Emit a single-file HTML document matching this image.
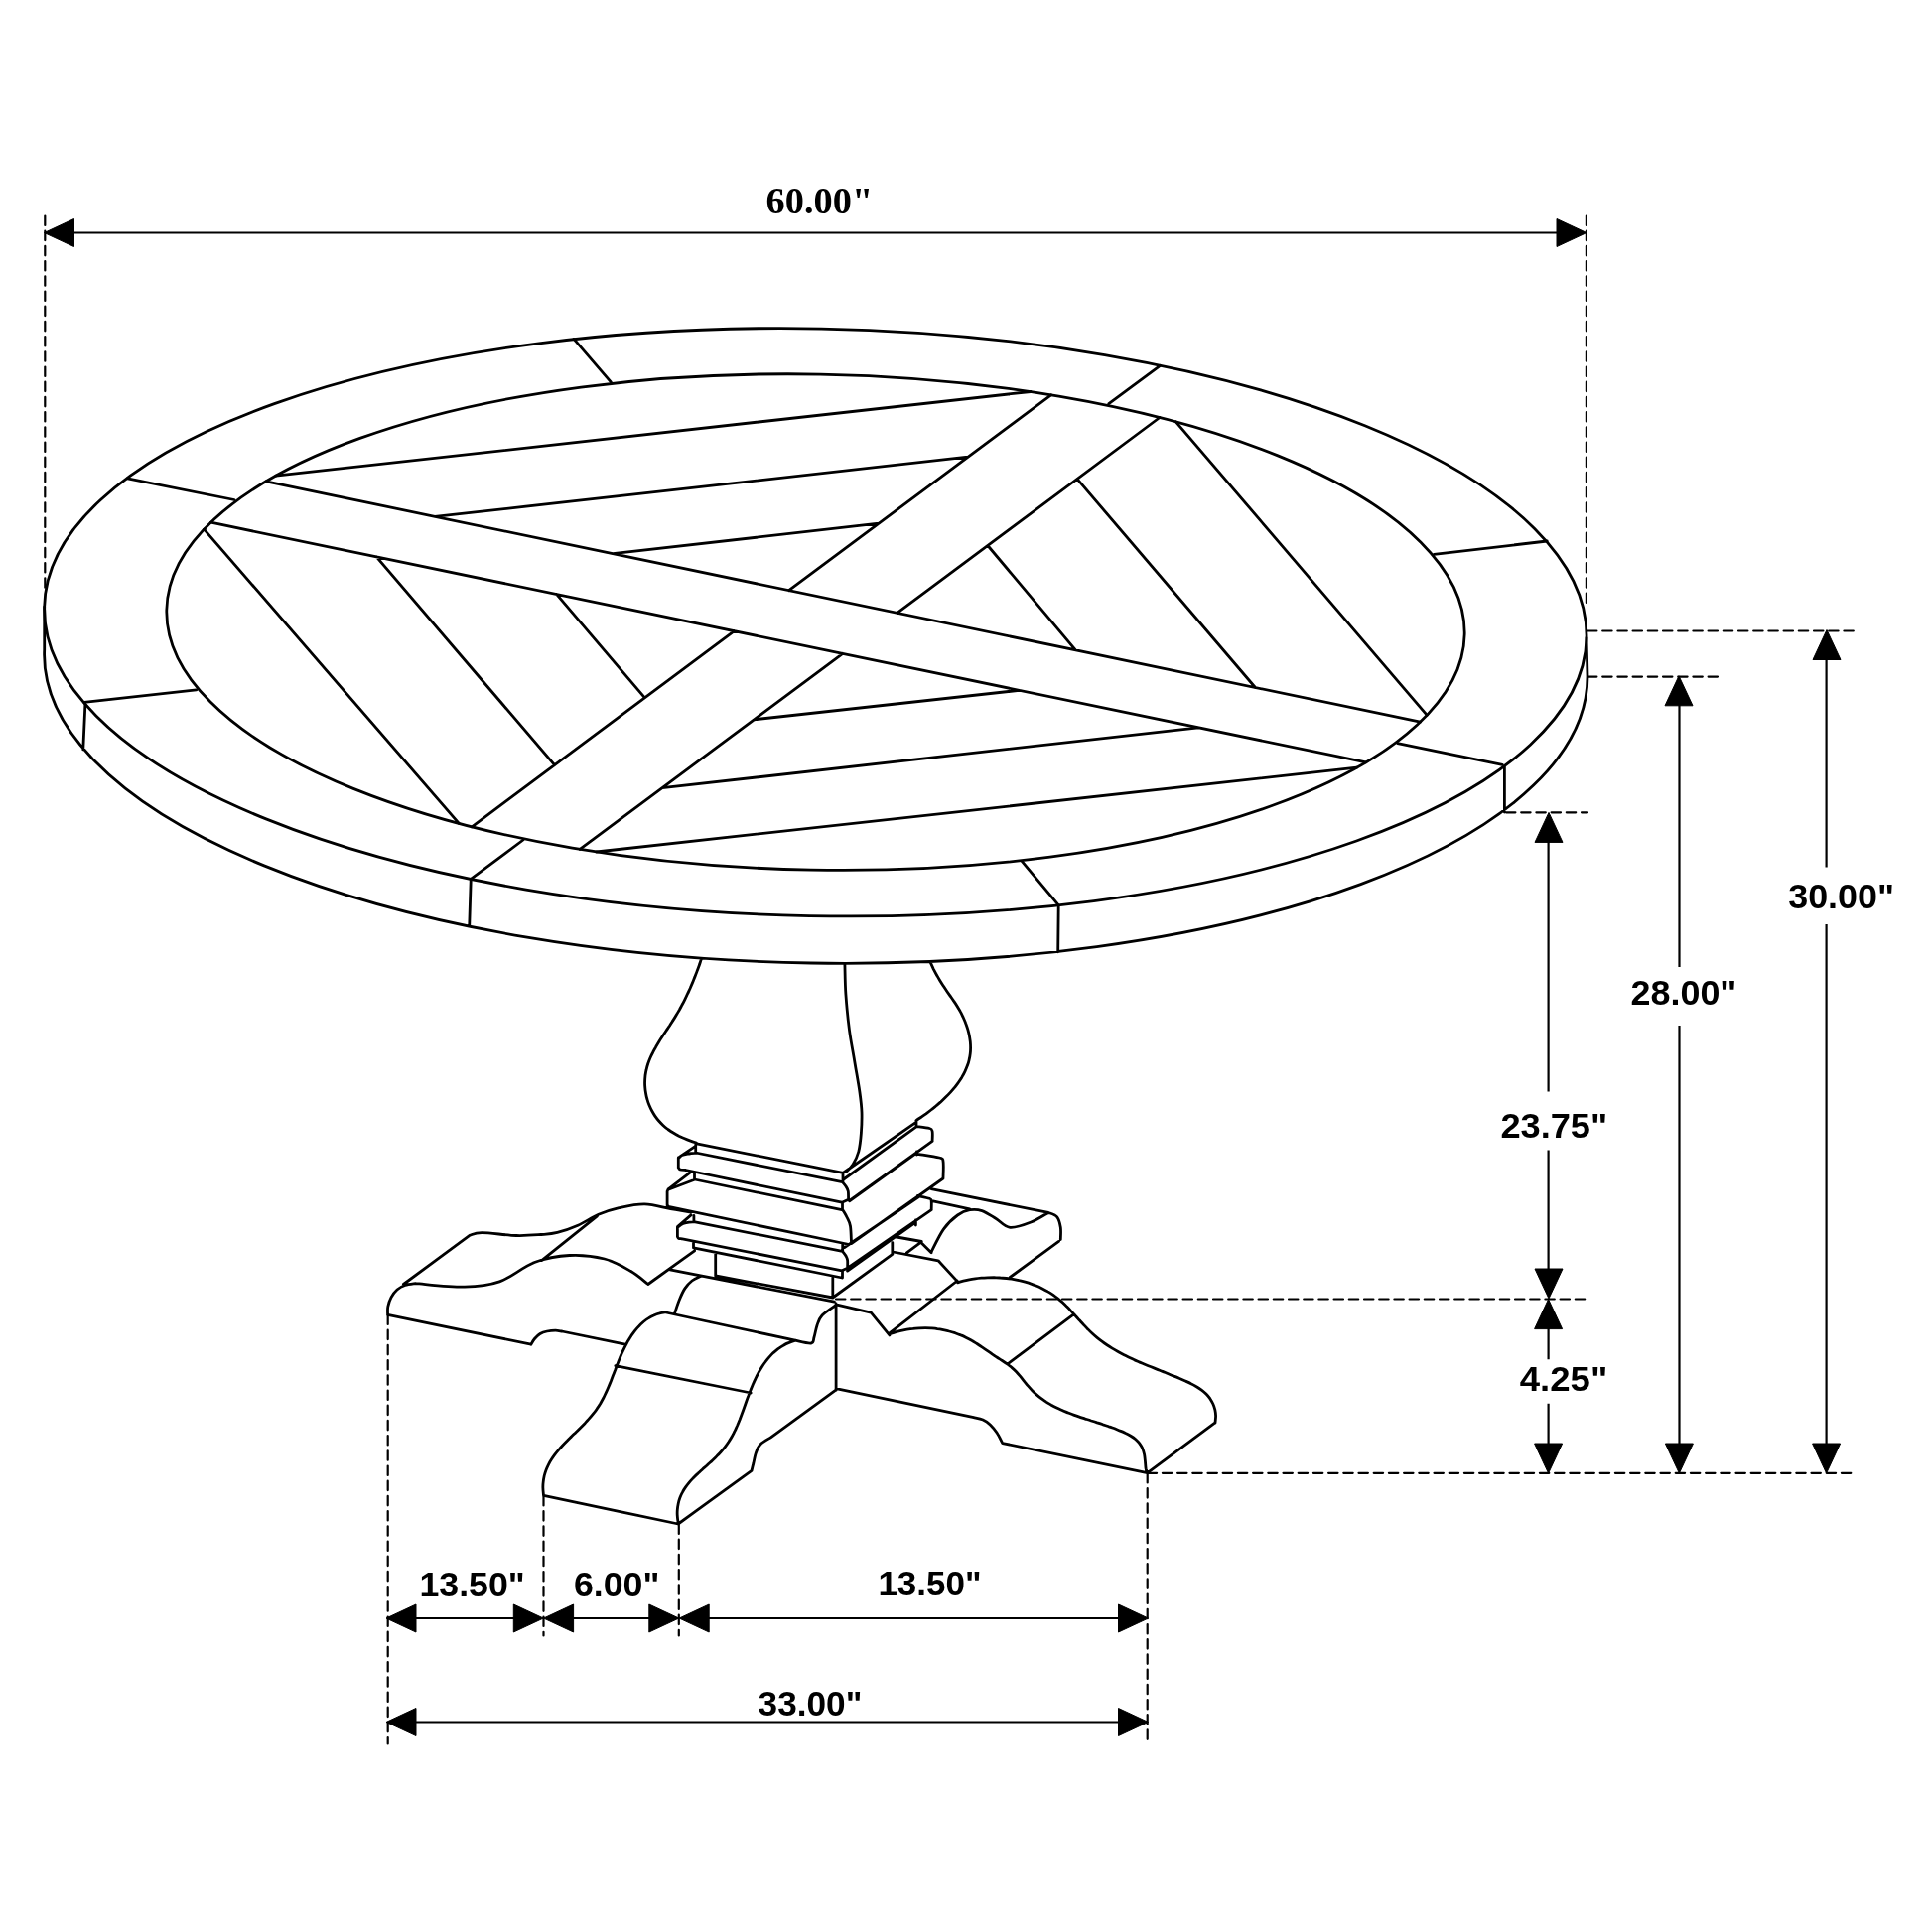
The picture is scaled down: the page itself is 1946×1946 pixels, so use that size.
<!DOCTYPE html>
<html><head><meta charset="utf-8"><title>Table dimensions</title>
<style>html,body{margin:0;padding:0;background:#fff;width:1946px;height:1946px;overflow:hidden}svg{display:block;will-change:transform}</style>
</head><body>
<svg width="1946" height="1946" viewBox="0 0 1946 1946">
<rect width="1946" height="1946" fill="#fff"/>
<g fill="none" stroke="#000" stroke-width="2.8" stroke-linejoin="round" stroke-linecap="round">
<ellipse cx="821.35" cy="626.8" rx="776.85" ry="295.8" transform="rotate(1.15 821.35 626.8)"/>
<ellipse cx="821.5" cy="626.6" rx="653.8" ry="249.6" transform="rotate(1.08 821.5 626.6)"/>
<path d="M44.7,654.4A777.3,299.5 0.97 1 0 1599,680.7M44.7,611.2L44.7,654.4M1598,642.4L1599,680.7M128.4,481.8L236,503.5M578,341.4L615.3,384.9M1168.5,368.3L1116.8,406.6M1558.2,545L1444.3,558.4M1513.3,770.4L1407.7,748.7M1065.7,911.2L1029.4,867.7M474.2,885.3L527,846M84.8,707.3L197.7,694.9M1515.4,772.5L1515.4,818M1066.2,913.3L1065.7,958.8M474.2,886.4L472.7,933M85.9,709.4L83.8,754.9M267.9,484.9L1430.5,727.1M212.4,526.2L1375.9,767.8M1058.7,397.8L794.6,594.7M739.6,635.6L475.2,832.8M1168.1,420.5L903.7,617.4M848.8,658.3L584.1,855.4M277.9,479.2L1038,394.5M438,520.4L974.9,460.2M617.2,557.7L885.1,527.2M1184.4,424.8L1437.3,720.3M1085,482.4L1264.4,692.5M994.9,549.5L1083.4,654.8M205.6,533.1L462.3,829.4M379.2,560.8L558.6,770.6M560.5,598.4L649.5,702.8M759.5,724.8L1026.8,695.3M667,793.7L1207.3,732.8M600.7,858L1366.5,773.2M706.4,966.1C706,967.1 705,970.2 704.3,972.2C703.6,974.2 702.8,976.1 702.1,978.1C701.4,980.1 700.6,982 699.9,983.9C699.1,985.8 698.4,987.7 697.6,989.6C696.8,991.5 696,993.4 695.2,995.3C694.3,997.1 693.5,999 692.6,1000.8C691.8,1002.7 690.9,1004.5 690,1006.3C689.1,1008.2 688.2,1010 687.2,1011.8C686.2,1013.6 685.3,1015.4 684.3,1017.2C683.2,1019 682.2,1020.7 681.1,1022.5C680.1,1024.3 679,1026.1 677.8,1027.9C676.7,1029.6 675.5,1031.4 674.4,1033.2C673.2,1035 672,1036.7 670.8,1038.5C669.6,1040.3 668.4,1042.1 667.3,1043.8C666.1,1045.6 664.9,1047.4 663.8,1049.2C662.7,1051 661.6,1052.8 660.6,1054.7C659.5,1056.5 658.5,1058.3 657.6,1060.2C656.6,1062 655.7,1063.9 654.9,1065.8C654.1,1067.7 653.4,1069.6 652.7,1071.5C652.1,1073.4 651.5,1075.4 651.1,1077.4C650.6,1079.3 650.3,1081.3 650,1083.3C649.8,1085.3 649.6,1087.4 649.6,1089.4C649.5,1091.4 649.6,1093.5 649.8,1095.5C649.9,1097.5 650.2,1099.5 650.6,1101.5C650.9,1103.5 651.4,1105.5 652,1107.5C652.5,1109.4 653.2,1111.4 654,1113.3C654.8,1115.2 655.6,1117 656.6,1118.8C657.6,1120.6 658.6,1122.4 659.8,1124.1C661,1125.8 662.2,1127.4 663.6,1129C664.9,1130.5 666.4,1132 667.9,1133.4C669.5,1134.9 671.1,1136.2 672.8,1137.5C674.5,1138.7 676.3,1139.9 678.2,1141C680,1142.1 681.9,1143.2 683.8,1144.2C685.7,1145.1 687.6,1146 689.6,1146.8C691.6,1147.7 693.5,1148.4 695.5,1149.1C697.5,1149.8 700.4,1150.7 701.4,1151M850.9,971.4C851.1,976.4 851.1,990.4 851.9,1001.4C852.7,1012.4 854,1026.4 855.5,1037.6C857,1048.8 859,1058.3 860.7,1068.7C862.4,1079.1 864.7,1091.2 865.9,1099.8C867.1,1108.4 867.8,1113.6 868,1120.5C868.2,1127.4 867.9,1134.6 867.4,1141.2C866.9,1147.8 866.2,1154.7 864.8,1160C863.4,1165.3 861.1,1169.6 859,1173C856.9,1176.4 853.2,1179.2 852,1180.5M937.5,970.2C938,971.2 939.4,974.2 940.3,976.1C941.3,978 942.3,979.9 943.3,981.7C944.4,983.6 945.4,985.4 946.5,987.2C947.6,989 948.7,990.8 949.8,992.5C951,994.3 952.1,996 953.3,997.7C954.5,999.5 955.7,1001.2 956.9,1002.9C958.1,1004.6 959.4,1006.3 960.6,1008.1C961.8,1009.8 963,1011.6 964.1,1013.4C965.2,1015.2 966.3,1017 967.3,1018.9C968.4,1020.8 969.3,1022.8 970.2,1024.7C971.1,1026.7 972,1028.7 972.7,1030.7C973.5,1032.8 974.2,1034.8 974.8,1036.9C975.4,1038.9 975.9,1041 976.3,1043.1C976.7,1045.1 977,1047.2 977.3,1049.3C977.5,1051.4 977.6,1053.5 977.6,1055.5C977.6,1057.6 977.5,1059.6 977.2,1061.7C977,1063.7 976.6,1065.7 976.1,1067.7C975.7,1069.7 975.1,1071.7 974.3,1073.6C973.6,1075.5 972.8,1077.4 971.9,1079.3C971,1081.2 970,1083 968.9,1084.9C967.8,1086.7 966.6,1088.5 965.4,1090.2C964.2,1092 962.8,1093.7 961.5,1095.4C960.1,1097.1 958.7,1098.8 957.2,1100.4C955.7,1102 954.2,1103.6 952.6,1105.1C951,1106.7 949.4,1108.2 947.8,1109.7C946.2,1111.1 944.5,1112.6 942.8,1114C941.2,1115.3 939.5,1116.7 937.8,1118C936.1,1119.3 934.4,1120.6 932.8,1121.8C931.1,1123 929.4,1124.1 927.8,1125.3C926.1,1126.4 923.7,1127.9 922.9,1128.5M700.4,1151.6L849.1,1181.4M700.7,1151.6L700.7,1160.8M699.8,1154.9L684.9,1164.9M700.7,1161L848.5,1190.7M849,1181.4L849,1190.7M683.6,1166.5C684.2,1166 685.3,1164.2 687,1163.5C688.7,1162.8 691.7,1162.4 694,1162C696.3,1161.6 699.6,1161.4 700.7,1161.3M683.3,1166L683.3,1176M683.3,1176C683.6,1176.3 683.8,1177.6 685,1178C686.2,1178.4 689.8,1178.4 690.7,1178.5M690.7,1178.5L848,1211.2M848.5,1190.7C849.1,1191.4 851,1193.5 852,1195C853,1196.5 853.9,1197.8 854.3,1200C854.7,1202.2 854.5,1206.9 854.6,1208.3M854.6,1208.3L848,1211.2M699.5,1180.5L699.5,1188M699.5,1188L848,1218.7M848.5,1211.5L848.5,1218.5M696,1180.4L673.1,1197.8M673.1,1198.2L699.5,1188.3M673.1,1197.8L672.1,1200L672.1,1213.5L673,1215.2M672,1215.2L855.3,1253.5M848.7,1218.5C849.4,1219.8 851.7,1223.2 853,1226C854.3,1228.8 855.8,1230.7 856.5,1235C857.2,1239.3 857.3,1248.8 857.5,1251.6M857.5,1251.6L855.3,1253.5M698.9,1224.5L698.9,1230.7M698.9,1230.7L848.5,1260.3M848.7,1253.8L848.7,1260M696,1223.9L683,1235.1M683,1235.8C683.8,1235.2 686.2,1233.3 688,1232.5C689.8,1231.7 692.2,1231.5 694,1231.2C695.8,1230.9 698.1,1231 698.9,1230.9M682.4,1235.7L682.4,1245.6M682.4,1245.6C682.6,1245.9 682.9,1246.9 683.5,1247.3C684.1,1247.7 685.6,1247.6 686,1247.7M686,1247.7L848,1279.8M848.7,1260.4C849.2,1261.2 851.2,1263.5 852,1265C852.8,1266.5 853.3,1267.3 853.6,1269.3C853.9,1271.3 853.6,1275.9 853.6,1277.2M853.6,1277.2L848,1279.8M698.5,1251L698.5,1256.8M698.5,1256.8L848,1287M848.5,1280L848.5,1287M720.7,1263.2L720.7,1285M720.7,1285L838.8,1307M838.8,1287L838.8,1307M849.7,1181L922.4,1130.7M923,1129.5L923,1134.6M849.7,1188L923.4,1134.6M923.4,1134.6C925.5,1134.9 933.6,1135.7 936.2,1136.5C938.8,1137.3 938.6,1137.4 939.1,1139.5C939.6,1141.6 939.1,1147.7 939.1,1149.3M939.1,1149.3L855.6,1209.3M855.6,1209.8L923.4,1161.1M923.4,1160L923.4,1163M923.4,1162.1C927.2,1162.8 941.6,1164.8 946,1166C950.4,1167.2 949.3,1166 950,1169.5C950.7,1173 950,1183.8 950,1186.7M950,1187L857.5,1252.6M850.6,1256.5L927.3,1204.4M924.4,1204.4C926.4,1204.9 933.9,1206.4 936.2,1207.3C938.5,1208.2 937.9,1208.2 938.2,1210C938.5,1211.8 938.2,1216.8 938.2,1218.2M938.2,1218.6L853.6,1277.2M853.6,1280.1L922.4,1231M922.4,1229L922.4,1234M898.8,1251.6L898.8,1263.4M898.8,1263.4L838.8,1307M390.6,1324.3C390.6,1322.9 390.2,1318.9 390.8,1316C391.4,1313.1 392.6,1309.5 394.1,1306.7C395.6,1303.9 397.7,1301 400,1299C402.3,1297 404.9,1295.6 408,1294.5C411.1,1293.4 416.9,1292.9 418.7,1292.6M418.7,1292.6C426.9,1293.2 453.9,1296.5 468,1296.2C482.1,1295.9 491.5,1295 503.2,1290.9C514.9,1286.8 526.7,1275.9 538.4,1271.5C550.1,1267.1 561.9,1265.1 573.6,1264.5C585.3,1263.9 598.5,1265.4 608.8,1268C619.1,1270.6 627.9,1276 635.2,1280.3C642.5,1284.5 649.9,1291.3 652.8,1293.5M406.4,1293.5L473.3,1244.2M473.3,1244.2C475.4,1243.8 477.8,1241.5 485.6,1241.6C493.4,1241.6 510.1,1244.2 520,1244.5C529.9,1244.8 538.1,1244 545,1243.5C551.9,1243 555.2,1243 561.4,1241.4C567.6,1239.9 575.2,1237.2 582.1,1234.2C589,1231.2 595.9,1226.2 602.8,1223.3C609.7,1220.4 615.7,1218.3 623.5,1216.6C631.3,1214.9 640.8,1212.7 649.4,1212.9C658,1213.1 667.5,1216.2 675.3,1217.6C683.1,1218.9 692.5,1220.4 696,1221M545.9,1269.4L601.5,1224.8M652.8,1293.5L699.6,1259.8M390.6,1324.3L534.9,1354.2M534.9,1354.2C535.5,1353.2 537,1350.3 538.5,1348.5C540,1346.7 541.9,1344.8 544,1343.5C546.1,1342.2 548.4,1341.5 551,1341C553.6,1340.5 557,1340.2 559.5,1340.2C562,1340.2 564.9,1340.9 566,1341M566,1341L629.9,1354.2M674.8,1278.9L840.4,1311.2M670.9,1321.7C669.8,1321.9 666.5,1322.3 664.4,1322.9C662.3,1323.4 660.4,1324.1 658.5,1325C656.6,1325.8 654.8,1326.8 653.1,1327.9C651.3,1328.9 649.7,1330.2 648.1,1331.5C646.6,1332.8 645.1,1334.2 643.7,1335.7C642.2,1337.1 640.9,1338.7 639.6,1340.3C638.3,1342 637.1,1343.7 635.9,1345.4C634.8,1347.1 633.7,1348.9 632.6,1350.7C631.6,1352.6 630.6,1354.4 629.6,1356.3C628.7,1358.1 627.8,1360 626.9,1361.9C626,1363.8 625.2,1365.8 624.4,1367.7C623.6,1369.7 622.8,1371.6 622.1,1373.6C621.3,1375.5 620.5,1377.5 619.8,1379.4C619,1381.4 618.3,1383.4 617.5,1385.3C616.8,1387.3 616,1389.2 615.3,1391.2C614.5,1393.1 613.7,1395.1 612.9,1397C612.1,1398.9 611.3,1400.8 610.4,1402.7C609.5,1404.6 608.6,1406.4 607.7,1408.3C606.7,1410.1 605.7,1411.9 604.7,1413.7C603.6,1415.5 602.5,1417.2 601.3,1418.9C600.2,1420.6 598.9,1422.3 597.6,1423.9C596.3,1425.5 595,1427.1 593.6,1428.7C592.2,1430.3 590.7,1431.8 589.3,1433.4C587.8,1434.9 586.3,1436.4 584.8,1437.9C583.3,1439.4 581.8,1440.9 580.2,1442.4C578.7,1443.9 577.2,1445.3 575.7,1446.8C574.2,1448.3 572.6,1449.8 571.2,1451.3C569.7,1452.8 568.2,1454.3 566.8,1455.8C565.4,1457.3 564,1458.9 562.7,1460.4C561.3,1462 560,1463.6 558.8,1465.2C557.6,1466.8 556.5,1468.4 555.4,1470.1C554.3,1471.8 553.3,1473.5 552.4,1475.3C551.5,1477.1 550.7,1478.9 550,1480.7C549.3,1482.6 548.7,1484.5 548.2,1486.5C547.8,1488.4 547.4,1490.5 547.2,1492.6C546.9,1494.7 546.8,1496.8 546.9,1499.1C546.9,1501.3 547.4,1504.8 547.5,1506M670.8,1322L801,1350.2M801.2,1350.2C800.1,1350.6 796.9,1351.5 794.9,1352.4C792.8,1353.2 790.9,1354.1 789.1,1355.2C787.2,1356.2 785.5,1357.4 783.8,1358.6C782.1,1359.9 780.6,1361.2 779,1362.6C777.5,1364.1 776.1,1365.6 774.7,1367.1C773.3,1368.7 772,1370.3 770.8,1372C769.5,1373.7 768.3,1375.4 767.2,1377.2C766.1,1379 765,1380.8 764,1382.6C763,1384.5 762.1,1386.4 761.1,1388.3C760.2,1390.2 759.4,1392.1 758.5,1394C757.7,1396 756.9,1397.9 756.1,1399.9C755.4,1401.9 754.6,1403.9 753.9,1405.8C753.1,1407.8 752.4,1409.8 751.7,1411.8C751,1413.8 750.3,1415.8 749.6,1417.8C748.9,1419.8 748.2,1421.8 747.4,1423.8C746.7,1425.8 745.9,1427.7 745.2,1429.7C744.4,1431.7 743.6,1433.6 742.8,1435.5C741.9,1437.4 741.1,1439.3 740.2,1441.2C739.2,1443.1 738.3,1444.9 737.3,1446.7C736.3,1448.5 735.2,1450.3 734.1,1452.1C733,1453.8 731.8,1455.5 730.5,1457.2C729.3,1458.8 727.9,1460.5 726.5,1462C725.1,1463.6 723.7,1465.1 722.1,1466.6C720.6,1468.2 719.1,1469.6 717.5,1471.1C715.9,1472.5 714.3,1474 712.7,1475.4C711.1,1476.9 709.4,1478.3 707.8,1479.7C706.2,1481.2 704.6,1482.6 703.1,1484.1C701.5,1485.5 700,1487 698.5,1488.5C697.1,1490 695.6,1491.5 694.3,1493.1C693,1494.7 691.7,1496.3 690.6,1497.9C689.4,1499.6 688.3,1501.3 687.4,1503.1C686.4,1504.8 685.6,1506.7 684.9,1508.5C684.2,1510.4 683.6,1512.4 683.2,1514.4C682.8,1516.4 682.4,1518.5 682.3,1520.6C682.1,1522.8 682.1,1525 682.3,1527.2C682.4,1529.5 683,1533 683.2,1534.2M547.6,1506.4L683.1,1535M619.8,1375.7L756.2,1403M683.1,1535L757,1481.3M757,1481.3C757.3,1480.1 758,1477.2 758.8,1474.2C759.5,1471.2 760.3,1466.2 761.5,1463C762.7,1459.8 763.3,1457.4 765.8,1454.9C768.3,1452.4 774.6,1449 776.4,1447.8M776.4,1447.8L841.5,1400.3M801,1350.2C803.7,1350.7 813.8,1353.5 817,1353C820.2,1352.5 819,1350 820,1347C821,1344 821.7,1338.7 823,1335C824.3,1331.3 824.8,1328.4 828,1325C831.2,1321.6 839.7,1316.2 842,1314.5M679.6,1322.9C680.3,1320.8 682.3,1314.2 684,1310C685.7,1305.8 687.6,1301.2 689.8,1297.9C692,1294.6 694.4,1292 697,1290C699.6,1288 704.2,1286.3 705.6,1285.6M842.1,1313L842.1,1400.3M842,1398.7L980.8,1427.7M980.8,1427.7C982.3,1428.1 987.2,1428.8 990,1430C992.8,1431.2 995,1432.7 997.3,1434.9C999.6,1437.1 1001.9,1439.9 1004,1443C1006.1,1446.1 1008.8,1451.8 1009.8,1453.6M1009.8,1453.6L1155.7,1483.6M1155.7,1483.6L1224,1432.9M895.9,1343.8C896.9,1343.5 899.8,1342.5 901.7,1341.9C903.7,1341.3 905.6,1340.8 907.6,1340.3C909.6,1339.9 911.6,1339.5 913.6,1339.1C915.6,1338.8 917.7,1338.5 919.7,1338.3C921.7,1338 923.8,1337.9 925.8,1337.8C927.9,1337.7 929.9,1337.7 932,1337.7C934,1337.7 936.1,1337.8 938.1,1337.9C940.1,1338.1 942.2,1338.3 944.2,1338.6C946.2,1338.8 948.2,1339.2 950.2,1339.6C952.2,1340 954.2,1340.4 956.2,1341C958.2,1341.5 960.1,1342.1 962,1342.7C964,1343.4 965.9,1344.1 967.8,1344.9C969.6,1345.6 971.5,1346.5 973.3,1347.4C975.2,1348.3 977,1349.3 978.7,1350.3C980.5,1351.3 982.2,1352.4 984,1353.5C985.7,1354.6 987.4,1355.7 989.1,1356.9C990.8,1358 992.5,1359.2 994.2,1360.4C995.9,1361.6 997.6,1362.7 999.2,1363.9C1000.9,1365 1002.6,1366.2 1004.3,1367.3C1006,1368.4 1007.7,1369.4 1009.4,1370.5C1011.1,1371.6 1012.8,1372.7 1014.4,1373.9C1016,1375.1 1017.7,1376.3 1019.2,1377.6C1020.7,1378.9 1022.2,1380.3 1023.6,1381.8C1025,1383.3 1026.3,1384.8 1027.7,1386.4C1029,1388 1030.3,1389.7 1031.6,1391.3C1032.9,1392.9 1034.2,1394.6 1035.6,1396.2C1036.9,1397.7 1038.3,1399.3 1039.7,1400.7C1041.2,1402.2 1042.7,1403.6 1044.2,1404.9C1045.7,1406.2 1047.3,1407.5 1048.9,1408.7C1050.5,1409.9 1052.2,1411 1053.8,1412.1C1055.5,1413.2 1057.3,1414.2 1059,1415.2C1060.8,1416.2 1062.6,1417.1 1064.4,1418C1066.2,1418.9 1068.1,1419.7 1069.9,1420.5C1071.8,1421.4 1073.7,1422.1 1075.6,1422.9C1077.5,1423.6 1079.4,1424.4 1081.4,1425.1C1083.3,1425.8 1085.3,1426.5 1087.2,1427.1C1089.2,1427.8 1091.2,1428.4 1093.2,1429.1C1095.1,1429.7 1097.1,1430.3 1099.1,1431C1101.1,1431.6 1103.1,1432.2 1105,1432.9C1107,1433.5 1109,1434.1 1110.9,1434.8C1112.9,1435.4 1114.9,1436.1 1116.8,1436.8C1118.7,1437.4 1120.6,1438.1 1122.6,1438.8C1124.5,1439.6 1126.3,1440.3 1128.2,1441.1C1130.1,1441.8 1131.9,1442.6 1133.7,1443.5C1135.5,1444.3 1137.2,1445.2 1138.9,1446.2C1140.5,1447.2 1142.2,1448.3 1143.6,1449.5C1145,1450.8 1146.4,1452.1 1147.6,1453.6C1148.8,1455.2 1149.8,1456.8 1150.7,1458.7C1151.5,1460.6 1152.1,1462.8 1152.6,1465C1153.1,1467.3 1153.2,1470 1153.5,1472.4C1153.7,1474.7 1153.8,1477.3 1154.1,1479.2C1154.5,1481.1 1155.4,1483 1155.6,1483.8M964.6,1291.8C965.5,1291.5 968.4,1290.7 970.3,1290.2C972.3,1289.7 974.3,1289.3 976.3,1288.9C978.3,1288.5 980.3,1288.2 982.4,1287.9C984.4,1287.6 986.5,1287.4 988.6,1287.2C990.7,1287 992.7,1286.9 994.8,1286.8C996.9,1286.7 999.1,1286.7 1001.2,1286.7C1003.3,1286.8 1005.4,1286.8 1007.5,1287C1009.6,1287.1 1011.7,1287.3 1013.8,1287.5C1015.9,1287.8 1018,1288.1 1020.1,1288.4C1022.2,1288.8 1024.3,1289.2 1026.4,1289.7C1028.4,1290.1 1030.5,1290.6 1032.5,1291.2C1034.5,1291.8 1036.5,1292.4 1038.5,1293.1C1040.5,1293.8 1042.4,1294.5 1044.3,1295.3C1046.2,1296.1 1048.1,1297 1050,1297.9C1051.8,1298.8 1053.6,1299.8 1055.4,1300.9C1057.2,1301.9 1058.9,1303 1060.6,1304.1C1062.3,1305.3 1063.9,1306.5 1065.5,1307.8C1067.1,1309.1 1068.7,1310.4 1070.2,1311.8C1071.7,1313.2 1073.2,1314.6 1074.6,1316.1C1076.1,1317.5 1077.5,1319 1078.9,1320.6C1080.3,1322.1 1081.7,1323.6 1083.1,1325.2C1084.5,1326.7 1085.9,1328.3 1087.2,1329.8C1088.6,1331.3 1090,1332.9 1091.5,1334.4C1092.9,1335.9 1094.3,1337.4 1095.8,1338.9C1097.2,1340.4 1098.7,1341.8 1100.3,1343.2C1101.8,1344.6 1103.4,1346 1105,1347.3C1106.6,1348.6 1108.3,1349.9 1109.9,1351.1C1111.6,1352.4 1113.3,1353.6 1115,1354.7C1116.8,1355.9 1118.5,1357 1120.3,1358.1C1122.1,1359.2 1123.9,1360.2 1125.7,1361.2C1127.5,1362.2 1129.3,1363.2 1131.2,1364.2C1133,1365.1 1134.8,1366.1 1136.7,1367C1138.6,1367.9 1140.4,1368.7 1142.3,1369.6C1144.2,1370.4 1146.1,1371.3 1147.9,1372.1C1149.8,1372.9 1151.7,1373.7 1153.6,1374.5C1155.5,1375.3 1157.5,1376.1 1159.4,1376.8C1161.3,1377.6 1163.2,1378.4 1165.1,1379.1C1167,1379.9 1169,1380.6 1170.9,1381.4C1172.8,1382.2 1174.8,1382.9 1176.7,1383.7C1178.6,1384.5 1180.5,1385.3 1182.5,1386.1C1184.4,1386.8 1186.3,1387.6 1188.3,1388.5C1190.2,1389.3 1192.1,1390.1 1194,1391C1195.9,1391.9 1197.9,1392.7 1199.7,1393.7C1201.6,1394.6 1203.4,1395.6 1205.2,1396.7C1207,1397.7 1208.7,1398.9 1210.3,1400.1C1211.9,1401.3 1213.5,1402.7 1214.9,1404.1C1216.3,1405.5 1217.6,1407.1 1218.8,1408.7C1219.9,1410.4 1220.9,1412.1 1221.8,1414C1222.6,1415.8 1223.3,1417.8 1223.8,1419.8C1224.2,1421.8 1224.5,1423.9 1224.6,1426.1C1224.6,1428.4 1224.1,1431.9 1224,1433M842,1313.8L877.3,1322.1L895.9,1344.9M895.9,1342.8L964.2,1290M1015,1373.8L1081.2,1324.2M938.1,1197.6L1056,1221.4M1056,1221.4C1057.5,1222.1 1062.8,1223.3 1064.8,1225.8C1066.8,1228.3 1067.7,1232.5 1068.3,1236.3C1068.9,1240.1 1068.3,1246.5 1068.3,1248.6M1066.5,1250.4L1017.3,1286.5M1056,1221.4C1053.1,1223 1044.9,1228.5 1038.4,1231C1032,1233.5 1023.2,1236.9 1017.3,1236.3C1011.4,1235.7 1007.9,1230.3 1003.2,1227.5C998.5,1224.7 993.5,1221.1 989.1,1219.6C984.7,1218.1 980.9,1218 976.8,1218.7C972.7,1219.4 968.9,1220.8 964.5,1224C960.1,1227.2 954.8,1231.9 950.4,1238.1C946,1244.3 940.1,1257.2 938.1,1261M939.8,1209.9L976.8,1217.8M900.5,1245.5L928.3,1250.5M899.4,1261L945.1,1269.8L964.5,1290.9M913.4,1261.8L927.5,1251.3L938.1,1261.8"/>
</g>
<g fill="none" stroke="#000" stroke-width="2.2"><path d="M74,234.5L1569,234.5M1839.6,664L1839.6,873.5M1839.6,931L1839.6,1455M1691.5,710L1691.5,974M1691.5,1033L1691.5,1455M1559.6,847L1559.6,1099.4M1559.6,1158.6L1559.6,1280M1559.6,1338L1559.6,1369.3M1559.6,1413.7L1559.6,1455M418,1630L520,1630M575,1630L656,1630M712,1630L1128,1630M418,1734.5L1128,1734.5"/></g>
<g fill="#000" stroke="#000" stroke-width="1" stroke-linejoin="round"><path d="M44.5,234.5L74.5,220.5L74.5,248.5ZM1598,234.5L1568,220.5L1568,248.5ZM1840,634.5L1826,664.5L1854,664.5ZM1839.6,1484L1825.6,1454L1853.6,1454ZM1691,680.8L1677,710.8L1705,710.8ZM1691.4,1484L1677.4,1454L1705.4,1454ZM1560,818.4L1546,848.4L1574,848.4ZM1560,1308L1546,1278L1574,1278ZM1559.6,1308.6L1545.6,1338.6L1573.6,1338.6ZM1559.6,1484L1545.6,1454L1573.6,1454ZM389,1630L419,1616L419,1644ZM547.3,1630L517.3,1616L517.3,1644ZM547.6,1630L577.6,1616L577.6,1644ZM683.8,1630L653.8,1616L653.8,1644ZM684.2,1630L714.2,1616L714.2,1644ZM1156.5,1630L1126.5,1616L1126.5,1644ZM389,1734.5L419,1720.5L419,1748.5ZM1156.5,1734.5L1126.5,1720.5L1126.5,1748.5Z"/></g>
<g fill="none" stroke="#000" stroke-width="2.2" stroke-linecap="round" stroke-dasharray="9.4 5.8"><path d="M45.3,217.5L45.3,593M1597.9,217.5L1597.9,612M1599,635.5L1870,635.5M1599,681.6L1730,681.6M1517,818.3L1599,818.3M842,1308.5L1599,1308.5M1155.7,1483.8L1870,1483.8M390.7,1324.5L390.7,1756.5M547.5,1507L547.5,1647.5M683.8,1535.5L683.8,1647.5M1155.7,1484L1155.7,1757"/></g>
<g fill="#000">
<text x="771.6" y="215.2" font-family="&quot;Liberation Serif&quot;, sans-serif" font-weight="bold" font-size="38.8" textLength="107.6" lengthAdjust="spacingAndGlyphs">60.00&quot;</text>
<text x="1801.2" y="915.2" font-family="&quot;Liberation Sans&quot;, sans-serif" font-weight="bold" font-size="35.3" textLength="106.8" lengthAdjust="spacingAndGlyphs">30.00&quot;</text>
<text x="1642.6" y="1012.2" font-family="&quot;Liberation Sans&quot;, sans-serif" font-weight="bold" font-size="35.3" textLength="106.8" lengthAdjust="spacingAndGlyphs">28.00&quot;</text>
<text x="1511.4" y="1146.0" font-family="&quot;Liberation Sans&quot;, sans-serif" font-weight="bold" font-size="35.3" textLength="107.8" lengthAdjust="spacingAndGlyphs">23.75&quot;</text>
<text x="1530.8" y="1401.2" font-family="&quot;Liberation Sans&quot;, sans-serif" font-weight="bold" font-size="35.3" textLength="88.4" lengthAdjust="spacingAndGlyphs">4.25&quot;</text>
<text x="422.4" y="1608.0" font-family="&quot;Liberation Sans&quot;, sans-serif" font-weight="bold" font-size="35.3" textLength="106.4" lengthAdjust="spacingAndGlyphs">13.50&quot;</text>
<text x="578.0" y="1608.0" font-family="&quot;Liberation Sans&quot;, sans-serif" font-weight="bold" font-size="35.3" textLength="86.4" lengthAdjust="spacingAndGlyphs">6.00&quot;</text>
<text x="884.4" y="1607.2" font-family="&quot;Liberation Sans&quot;, sans-serif" font-weight="bold" font-size="35.3" textLength="104.2" lengthAdjust="spacingAndGlyphs">13.50&quot;</text>
<text x="763.6" y="1728.4" font-family="&quot;Liberation Sans&quot;, sans-serif" font-weight="bold" font-size="35.3" textLength="104.8" lengthAdjust="spacingAndGlyphs">33.00&quot;</text>
</g>
</svg>
</body></html>
